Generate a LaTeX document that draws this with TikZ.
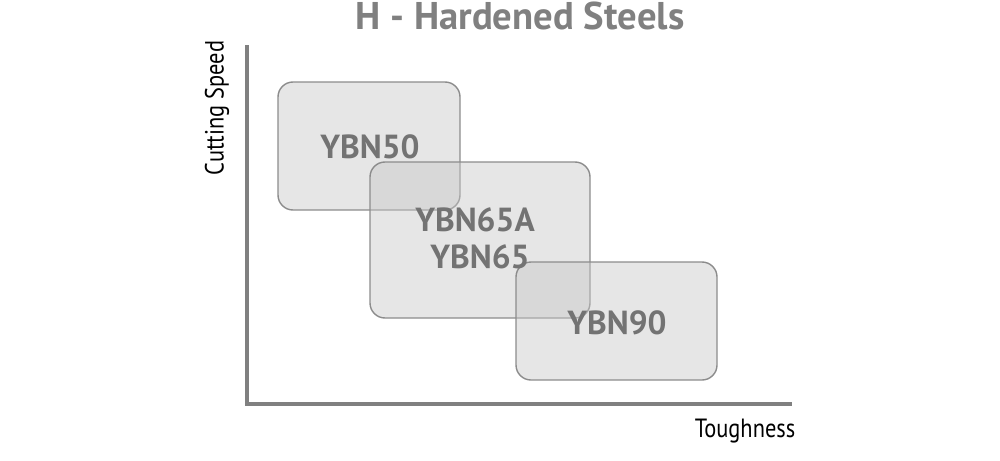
\documentclass[tikz,border=0pt]{standalone}
\usepackage{fontspec}
\setmainfont{PT Sans}
\begin{document}
\begin{tikzpicture}[x=0.02cm,y=-0.02cm,
  zone/.style={draw=black!45,line width=0.8pt,fill=black!22,fill opacity=0.45,text opacity=1,rounded corners=0.3cm},
  zlabel/.style={text=black!55,font=\fontsize{19}{21}\selectfont\bfseries,align=center},
  axis/.style={draw=black!50,line width=2.8pt}]
\useasboundingbox (0,0) rectangle (1000,460);
\node[text=black!50,font=\fontsize{22}{24}\selectfont\bfseries] (title) at (520,16) {H - Hardened Steels};
\coordinate (top) at (247,45);
\coordinate (orig) at (247,404);
\coordinate (right) at (792,404);
\draw[axis] (top) -- (orig) -- (right);
\node[rotate=90,font=\fontsize{15}{17}\selectfont,xscale=0.85] (ylab) at (217,108) {Cutting Speed};
\node[font=\fontsize{15}{17}\selectfont,xscale=0.85] (xlab) at (745,431) {Toughness};
\draw[zone] (278,82) rectangle (460,210);
\draw[zone] (370,162) rectangle (590,318);
\draw[zone] (516,262) rectangle (717,380);
\node[zlabel] (a) at (370,147) {YBN50};
\node[zlabel] (b1) at (475,220) {YBN65A};
\node[zlabel] (b2) at (480,257) {YBN65};
\node[zlabel] (c) at (617,323) {YBN90};
\end{tikzpicture}
\end{document}
